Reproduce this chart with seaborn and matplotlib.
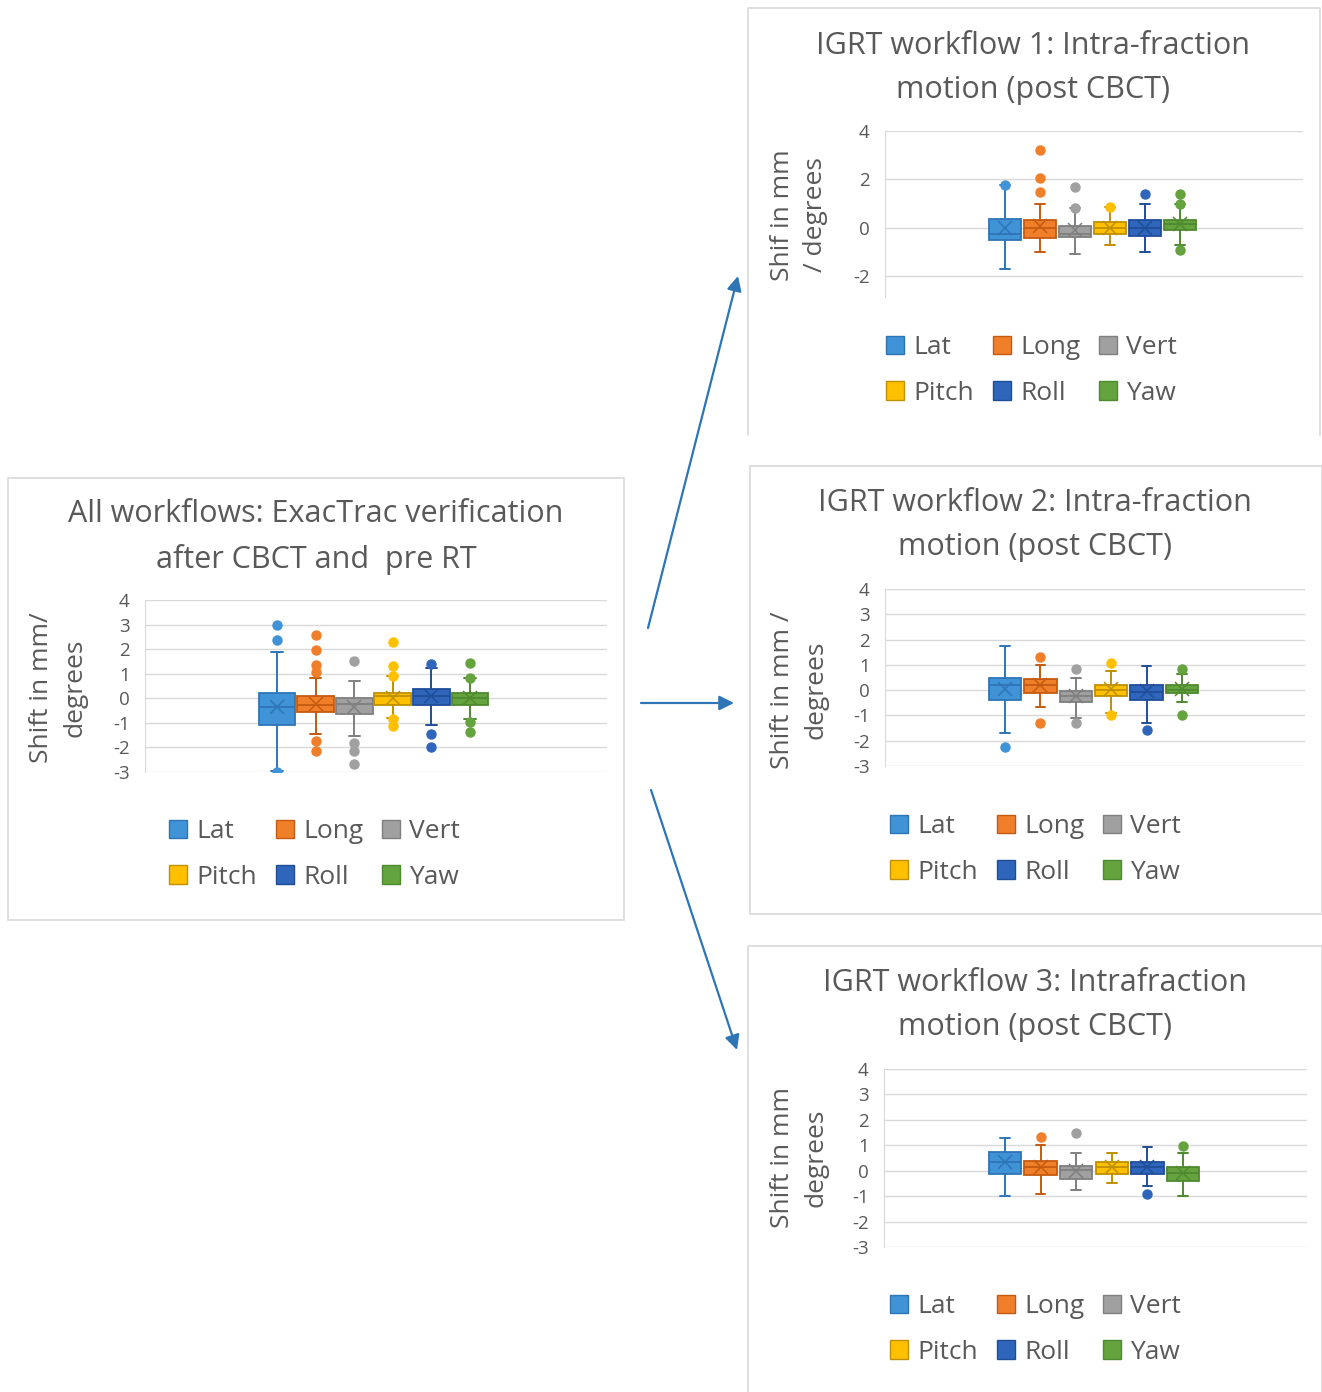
import matplotlib
matplotlib.use("Agg")
import matplotlib.pyplot as plt
from matplotlib.patches import Rectangle, Patch
import seaborn as sns

# ---- data (box stats per variable) ----
variables = ['Lat', 'Long', 'Vert', 'Pitch', 'Roll', 'Yaw']

# All workflows: ExacTrac verification after CBCT and pre RT
a_q1 = [-1.10, -0.56, -0.64, -0.26, -0.26, -0.26]
a_med = [-0.37, -0.28, -0.23, 0.08, 0.11, 0.00]
a_q3 = [0.22, 0.08, 0.00, 0.22, 0.38, 0.22]
a_lo = [-2.97, -1.45, -1.52, -0.80, -1.07, -0.84]
a_hi = [1.90, 0.83, 0.69, 0.92, 1.22, 0.83]
a_mean = [-0.37, -0.23, -0.35, 0.01, 0.11, 0.00]
a_fliers = [[3.0, 2.36, -3.0], [2.59, 1.96, 1.37, 1.07, -1.75, -2.15],
            [1.53, -1.82, -2.14, -2.67], [2.29, 1.30, 0.92, -0.84, -1.14],
            [1.41, -1.44, -1.98], [1.45, 0.83, -0.98, -1.38]]

# IGRT workflow 1
b_q1 = [-0.49, -0.42, -0.39, -0.26, -0.34, -0.10]
b_med = [-0.26, 0.01, -0.26, 0.01, 0.01, 0.15]
b_q3 = [0.38, 0.31, 0.07, 0.24, 0.31, 0.31]
b_lo = [-1.70, -1.01, -1.07, -0.69, -1.01, -0.69]
b_hi = [1.78, 0.99, 0.84, 0.86, 0.99, 0.99]
b_mean = [-0.01, 0.10, -0.07, 0.01, 0.01, 0.15]
b_fliers = [[1.78], [3.22, 2.07, 1.47], [1.69, 0.84], [0.86], [1.40],
            [1.40, 0.99, -0.91]]

# IGRT workflow 2
c_q1 = [-0.38, -0.12, -0.46, -0.22, -0.38, -0.12]
c_med = [0.22, 0.22, -0.22, 0.00, -0.09, 0.00]
c_q3 = [0.50, 0.46, -0.04, 0.22, 0.22, 0.22]
c_lo = [-1.71, -0.67, -1.12, -0.92, -1.28, -0.46]
c_hi = [1.75, 1.01, 0.50, 0.74, 0.96, 0.63]
c_mean = [0.04, 0.22, -0.22, 0.04, -0.03, 0.04]
c_fliers = [[-2.24], [1.32, -1.28], [0.83, -1.28], [1.08, -0.99], [-1.57],
            [0.83, -0.97]]

# IGRT workflow 3
d_q1 = [-0.13, -0.18, -0.33, -0.12, -0.12, -0.42]
d_med = [0.34, 0.14, 0.04, 0.14, 0.14, -0.09]
d_q3 = [0.72, 0.37, 0.20, 0.34, 0.36, 0.13]
d_lo = [-0.99, -0.92, -0.75, -0.49, -0.62, -0.99]
d_hi = [1.30, 1.00, 0.70, 0.70, 0.92, 0.70]
d_mean = [0.34, 0.14, 0.00, 0.14, 0.14, -0.09]
d_fliers = [[], [1.32], [1.47], [], [-0.92], [0.96]]

fill_colors = ['#3F93D6', '#F07F2A', '#A0A0A0', '#FFC000', '#2F66BC', '#65A33F']
edge_colors = ['#2E75B6', '#C55A11', '#7F7F7F', '#BF9000', '#1F4E99', '#4E8A2E']

W, H = 1322, 1392
TXT = '#595959'

sns.set_style("white")
plt.rcParams['font.family'] = ['Open Sans', 'DejaVu Sans']
plt.rcParams['axes.unicode_minus'] = False

fig = plt.figure(figsize=(W / 100, H / 100), dpi=100)

# background layer for panel frames and arrows (pixel coords)
bg = fig.add_axes([0, 0, 1, 1])
bg.set_xlim(0, W)
bg.set_ylim(H, 0)
bg.axis('off')

frame = dict(fill=False, edgecolor='#D9D9D9', lw=1.2)
bg.add_patch(Rectangle((8, 478), 616, 442, **frame))
bg.plot([748, 748, 1320, 1320], [435, 8, 8, 435], color='#D9D9D9', lw=1.2)
bg.add_patch(Rectangle((750, 466), 572, 448, **frame))
bg.add_patch(Rectangle((748, 946), 574, 460, **frame))

arrow = dict(arrowstyle='-|>', color='#2E75B6', lw=1.6, mutation_scale=22,
             shrinkA=0, shrinkB=0)
bg.annotate('', xy=(738, 276), xytext=(648, 628), arrowprops=arrow)
bg.annotate('', xy=(734, 703), xytext=(641, 703), arrowprops=arrow)
bg.annotate('', xy=(737, 1050), xytext=(651, 790), arrowprops=arrow)


def fx(x):
    return x / W


def fy(y):
    return 1 - y / H


def draw_panel(rect, ylim, yticks, spacing, center, width, q1, med, q3, lo, hi,
               mean, fliers, title, title_xy, ylabel, ylabel_xy, legend_xy):
    x0, yt, x1, yb = rect
    ax = fig.add_axes([fx(x0), fy(yb), fx(x1 - x0), (yb - yt) / H])
    for i in range(len(variables)):
        st = dict(med=med[i], q1=q1[i], q3=q3[i], whislo=lo[i], whishi=hi[i],
                  mean=mean[i], fliers=fliers[i], label=variables[i])
        ec = edge_colors[i]
        ax.bxp([st], positions=[i], widths=width, patch_artist=True,
               showmeans=True, capwidths=width * 0.3,
               boxprops=dict(facecolor=fill_colors[i], edgecolor=ec, lw=1.3),
               medianprops=dict(color=ec, lw=1.3),
               whiskerprops=dict(color=ec, lw=1.4),
               capprops=dict(color=ec, lw=1.4),
               meanprops=dict(marker='x', markeredgecolor=ec, markersize=10,
                              markeredgewidth=1.1),
               flierprops=dict(marker='o', markerfacecolor=fill_colors[i],
                               markeredgecolor=fill_colors[i], markersize=6.5))
    ax.set_xlim(2.5 - (center - x0) / spacing, 2.5 + (x1 - center) / spacing)
    ax.set_ylim(*ylim)
    ax.set_yticks(yticks)
    ax.set_xticks([])
    ax.yaxis.grid(True, color='#D9D9D9', lw=1)
    ax.set_axisbelow(True)
    for s in ['top', 'right', 'bottom']:
        ax.spines[s].set_visible(False)
    ax.spines['left'].set_color('#D9D9D9')
    ax.tick_params(axis='y', length=0, pad=11, labelsize=13.5, labelcolor=TXT)

    fig.text(fx(title_xy[0]), fy(title_xy[1]), title, ha='center', va='center',
             fontsize=22, color=TXT, linespacing=1.6)
    fig.text(fx(ylabel_xy[0]), fy(ylabel_xy[1]), ylabel, ha='center',
             va='center', rotation=90, fontsize=19, color=TXT,
             linespacing=1.45, multialignment='center')

    # legend ordered so rows read Lat Long Vert / Pitch Roll Yaw
    order = [0, 3, 1, 4, 2, 5]
    handles = [Patch(facecolor=fill_colors[k], edgecolor=edge_colors[k],
                     label=variables[k]) for k in order]
    ax.legend(handles=handles, ncol=3, loc='upper left', frameon=False,
              bbox_to_anchor=(fx(legend_xy[0]), fy(legend_xy[1])),
              bbox_transform=fig.transFigure, borderaxespad=0, borderpad=0,
              fontsize=19, labelcolor=TXT, handlelength=0.7,
              handleheight=0.7, handletextpad=0.34, columnspacing=0.7,
              labelspacing=0.78)
    return ax


draw_panel((145, 600, 607, 772), (-3, 4), range(-3, 5), 38.6, 373.5, 0.95,
           a_q1, a_med, a_q3, a_lo, a_hi, a_mean, a_fliers,
           'All workflows: ExacTrac verification\nafter CBCT and  pre RT',
           (316, 537), 'Shift in mm/\ndegrees', (58, 688), (169, 819))

draw_panel((885, 131, 1303, 297), (-2.85, 4), [-2, 0, 2, 4], 35.0, 1092.5, 0.93,
           b_q1, b_med, b_q3, b_lo, b_hi, b_mean, b_fliers,
           'IGRT workflow 1: Intra-fraction\nmotion (post CBCT)',
           (1033, 68), 'Shif in mm\n/ degrees', (799, 215), (886, 335))

draw_panel((885, 589, 1305, 766), (-3, 4), range(-3, 5), 35.4, 1093.5, 0.91,
           c_q1, c_med, c_q3, c_lo, c_hi, c_mean, c_fliers,
           'IGRT workflow 2: Intra-fraction\nmotion (post CBCT)',
           (1035, 525), 'Shift in mm /\ndegrees', (799, 690), (890, 814))

draw_panel((884, 1069, 1307, 1247), (-3, 4), range(-3, 5), 35.6, 1094.0, 0.91,
           d_q1, d_med, d_q3, d_lo, d_hi, d_mean, d_fliers,
           'IGRT workflow 3: Intrafraction\nmotion (post CBCT)',
           (1035, 1005), 'Shift in mm\ndegrees', (799, 1158), (890, 1294))

fig.savefig('out.png', dpi=100)
